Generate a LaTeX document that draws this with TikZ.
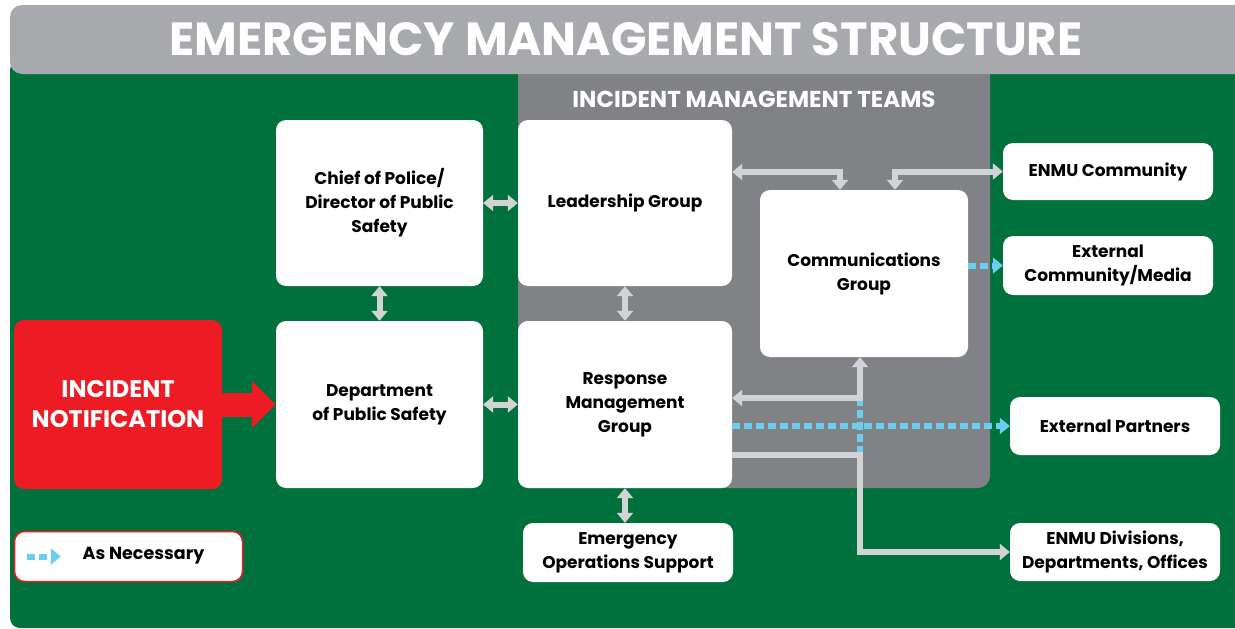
\documentclass[tikz,border=0pt]{standalone}
\usepackage{fontspec}
\setmainfont{Poppins}
\usetikzlibrary{arrows.meta}

\definecolor{emgreen}{HTML}{00703C}
\definecolor{emred}{HTML}{ED1C24}
\definecolor{bargray}{HTML}{A7A9AC}
\definecolor{panelgray}{HTML}{808285}
\definecolor{linkgray}{HTML}{D1D3D4}
\definecolor{linkblue}{HTML}{6CCDEE}

\tikzset{
  box/.style={fill=white, rounded corners=10pt, align=center, inner sep=0pt,
    font=\bfseries\fontsize{17}{24}\selectfont},
  gtip/.tip={Triangle[width=16pt,length=10pt]},
  glink/.style={draw=linkgray, line width=6pt},
  blink/.style={draw=linkblue, line width=6pt, dash pattern=on 8pt off 4pt}
}

\begin{document}
\begin{tikzpicture}[x=1pt,y=-1pt]
\useasboundingbox (0,0) rectangle (1235,629);
\clip (0,0) rectangle (1235,629);
\fill[white] (0,0) rectangle (1235,629);

% background, side panel and title bar
\fill[emgreen, rounded corners=10pt] (10,60) rectangle (1260,628);
\fill[panelgray, rounded corners=12pt] (518,50) rectangle (990,488);
\fill[bargray, rounded corners=12pt] (10,5) rectangle (1260,74);
\node[white, font=\bfseries\fontsize{46.5}{46.5}\selectfont] (title) at (626,39) {EMERGENCY MANAGEMENT STRUCTURE};
\node[white, font=\bfseries\fontsize{23}{23}\selectfont] (teams) at (754,99) {INCIDENT MANAGEMENT TEAMS};

% boxes
\node[box, minimum width=207, minimum height=166] (chief) at (379.5,203) {Chief of Police/\\Director of Public\\Safety};
\node[box, minimum width=214, minimum height=166] (lead) at (625,203) {Leadership Group};
\node[box, minimum width=208, minimum height=167] (comm) at (864,273.5) {Communications\\Group};
\node[box, minimum width=207, minimum height=167] (dps) at (379.5,404.5) {Department\\of Public Safety};
\node[box, minimum width=214, minimum height=167] (resp) at (625,404.5) {Response\\Management\\Group};
\node[box, fill=emred, text=white, minimum width=208, minimum height=169,
  font=\bfseries\fontsize{24}{30}\selectfont] (inc) at (118,404.5) {INCIDENT\\NOTIFICATION};
\node[box, minimum width=210, minimum height=59] (eos) at (628,552.5) {Emergency\\Operations Support};
\node[box, minimum width=210, minimum height=57] (enmu) at (1108,171.5) {ENMU Community};
\node[box, minimum width=210, minimum height=59] (extcm) at (1108,265.5) {External\\Community/Media};
\node[box, minimum width=210, minimum height=58] (extp) at (1115,426) {External Partners};
\node[box, minimum width=210, minimum height=58] (div) at (1115,552) {ENMU Divisions,\\Departments, Offices};

% key
\node[box, draw=emred, line width=1.5pt, minimum width=228, minimum height=50] (key) at (128.5,556.5) {};
\node[font=\bfseries\fontsize{17.5}{20}\selectfont] (keytext) at (143.5,556) {As Necessary};
\path[blink, -gtip] ([xshift=13]key.west) -- ++(34,0);

% incoming notice
\path[draw=emred, line width=24pt, -{Triangle[width=46pt,length=24pt]}] (inc) -- (dps);

% helper points
\coordinate (cs) at ([xshift=-4]comm.south);
\coordinate (ra) at ([yshift=6.5]resp.east);
\coordinate (rb) at ([yshift=-50.5]resp.east);

% links
\path[blink] (cs |- ra) -- (cs |- rb);
\path[blink, -gtip] ([yshift=-21.5]resp.east) -- (extp.west);
\path[blink, -gtip] (comm.east |- extcm.west) -- (extcm.west);

\path[glink, gtip-gtip] (chief) -- (lead);
\path[glink, gtip-gtip] (chief) -- (dps);
\path[glink, gtip-gtip] (lead) -- (resp);
\path[glink, gtip-gtip] (dps) -- (resp);
\path[glink, gtip-gtip] (resp.south) -- (resp.south |- eos.north);
\path[glink, gtip-gtip] ([yshift=31]lead.east) -| ([xshift=-24]comm.north);
\path[glink, gtip-gtip] ([xshift=31]comm.north) |- (enmu.west);
\path[glink, gtip-gtip] (cs) |- (ra);
\path[glink, -gtip] (rb) -| (cs |- div.west) -- (div.west);
\end{tikzpicture}
\end{document}
